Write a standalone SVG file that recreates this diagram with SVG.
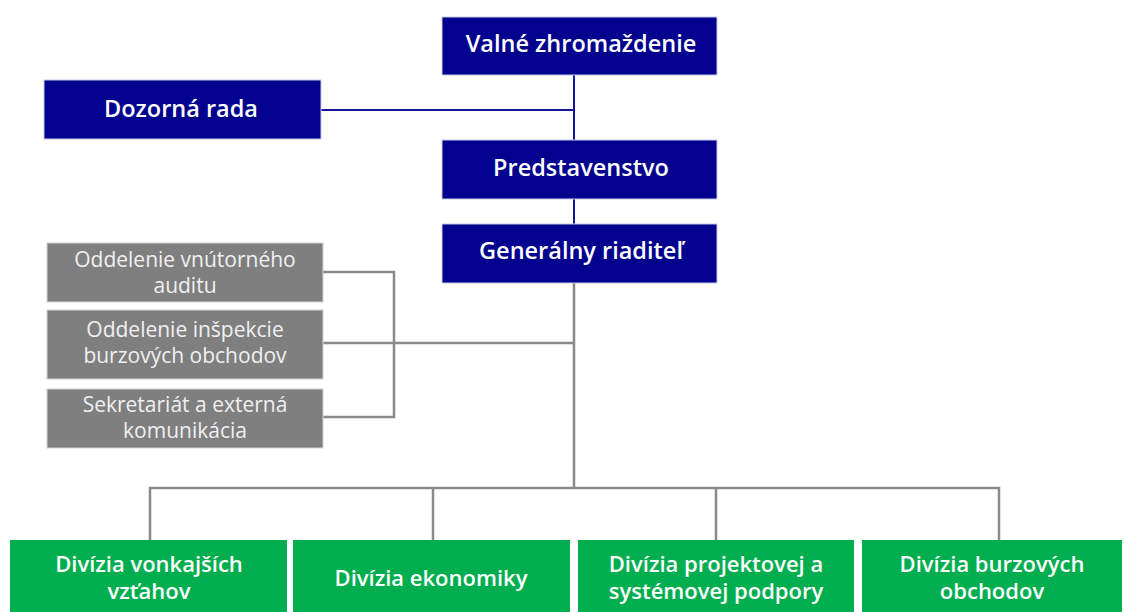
<svg xmlns="http://www.w3.org/2000/svg" width="1125" height="612" viewBox="0 0 1125 612">
  <style>
    .blue { fill: #02028f; stroke: #c9cbe6; stroke-width: 1; }
    .gray { fill: #7f7f7f; stroke: #d4d4d4; stroke-width: 1; }
    .green { fill: #00ae4f; }
    .tb { font-family: "Open Sans", "Liberation Sans", sans-serif; font-weight: 600; font-size: 23.5px; fill: #ffffff; text-anchor: middle; }
    .tgr { font-family: "Open Sans", "Liberation Sans", sans-serif; font-weight: 600; font-size: 22px; fill: #ffffff; text-anchor: middle; }
    .tg { font-family: "Open Sans", "Liberation Sans", sans-serif; font-size: 21px; fill: #f0f0f0; text-anchor: middle; }
    .lb { stroke: #14149c; stroke-width: 2; fill: none; }
    .lg { stroke: #8a8a8a; stroke-width: 2.5; fill: none; }
  </style>

  <!-- connectors -->
  <g id="connectors">
    <path class="lb" d="M574 75 V140 M321 110 H574 M574 199 V224"/>
    <path class="lg" d="M574 283 V488 M323 343 H574 M323 272 H394 V417 H323"/>
    <path class="lg" d="M150 540 V488 H999 V540 M433 488 V540 M716 488 V540"/>
  </g>

  <g id="valne-zhromazdenie">
    <rect class="blue" x="442" y="17" width="275" height="58"/>
    <text class="tb" x="581" y="52">Valné zhromaždenie</text>
  </g>

  <g id="dozorna-rada">
    <rect class="blue" x="44" y="80" width="277" height="59"/>
    <text class="tb" x="181" y="117">Dozorná rada</text>
  </g>

  <g id="predstavenstvo">
    <rect class="blue" x="442" y="140" width="275" height="59"/>
    <text class="tb" x="581" y="176">Predstavenstvo</text>
  </g>

  <g id="generalny-riaditel">
    <rect class="blue" x="442" y="224" width="275" height="59"/>
    <text class="tb" x="581" y="259">Generálny riaditeľ</text>
  </g>

  <g id="vnutorny-audit">
    <rect class="gray" x="47" y="243" width="276" height="59"/>
    <text class="tg" x="185" y="267">Oddelenie vnútorného<tspan x="185" dy="26">auditu</tspan></text>
  </g>

  <g id="inspekcia">
    <rect class="gray" x="47" y="310" width="276" height="69"/>
    <text class="tg" x="185" y="337">Oddelenie inšpekcie<tspan x="185" dy="26">burzových obchodov</tspan></text>
  </g>

  <g id="sekretariat">
    <rect class="gray" x="47" y="389" width="276" height="59"/>
    <text class="tg" x="185" y="412">Sekretariát a externá<tspan x="185" dy="26">komunikácia</tspan></text>
  </g>

  <g id="divizia-vonkajsich-vztahov">
    <rect class="green" x="10" y="540" width="277" height="72"/>
    <text class="tgr" x="149" y="571.5">Divízia vonkajších<tspan x="149" dy="27.5">vzťahov</tspan></text>
  </g>

  <g id="divizia-ekonomiky">
    <rect class="green" x="293" y="540" width="277" height="72"/>
    <text class="tgr" x="431" y="586">Divízia ekonomiky</text>
  </g>

  <g id="divizia-projektovej-podpory">
    <rect class="green" x="578" y="540" width="276" height="72"/>
    <text class="tgr" x="716" y="571.5">Divízia projektovej a<tspan x="716" dy="27.5">systémovej podpory</tspan></text>
  </g>

  <g id="divizia-burzovych-obchodov">
    <rect class="green" x="862" y="540" width="260" height="72"/>
    <text class="tgr" x="992" y="571.5">Divízia burzových<tspan x="992" dy="27.5">obchodov</tspan></text>
  </g>
</svg>
